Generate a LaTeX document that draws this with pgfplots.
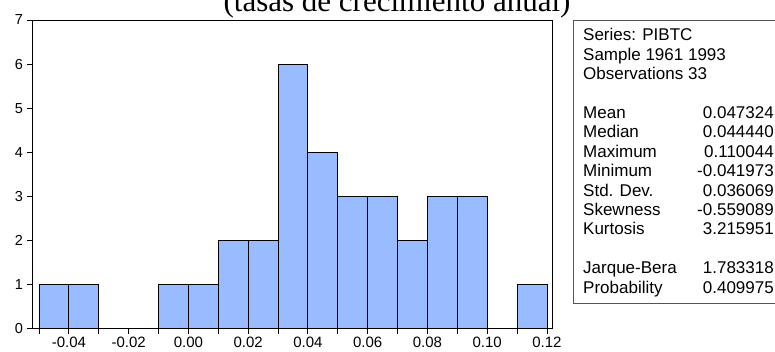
\documentclass[border=0pt]{standalone}
\usepackage{fontspec}
\setmainfont{Liberation Sans}
\newfontfamily\titlefont{Liberation Serif}
\usepackage{pgfplots}
\pgfplotsset{compat=1.18}
\definecolor{barblue}{HTML}{99BBFF}
\definecolor{boxgray}{HTML}{555555}

\begin{document}
\begin{tikzpicture}
\begin{axis}[
  at={(33bp,23.5bp)}, anchor=south west,
  scale only axis, width=519bp, height=308.5bp,
  xmin=-0.052, xmax=0.1217, ymin=0, ymax=7,
  axis line style={black, line width=1bp},
  xtick={-0.04,-0.02,0,0.02,0.04,0.06,0.08,0.10,0.12},
  xticklabels={-0.04,-0.02,0.00,0.02,0.04,0.06,0.08,0.10,0.12},
  minor xtick={-0.05,-0.03,-0.01,0.01,0.03,0.05,0.07,0.09,0.11},
  ytick={0,1,2,3,4,5,6,7},
  xtick pos=lower, ytick pos=left,
  tick align=outside,
  major tick length=5.5bp, minor tick length=5.5bp,
  tick style={black, line width=0.8bp},
  minor tick style={black, line width=0.8bp},
  /pgf/number format/assume math mode=true,
  xticklabel style={font=\fontsize{15bp}{17bp}\selectfont},
  yticklabel style={font=\fontsize{14.5bp}{17bp}\selectfont, xshift=-1bp},
]
% frequency of annual growth rates, bins of width 0.01
\addplot[ybar interval, fill=barblue, draw=black, line width=0.8bp] coordinates {
  (-0.05,1) (-0.04,1) (-0.03,0) (-0.02,0) (-0.01,1) (0.00,1)
  (0.01,2) (0.02,2) (0.03,6) (0.04,4) (0.05,3) (0.06,3)
  (0.07,2) (0.08,3) (0.09,3) (0.10,0) (0.11,1) (0.12,1)
};
\end{axis}

% title
\node[font=\titlefont\fontsize{31bp}{31bp}\selectfont, anchor=base] at (397bp,340bp) {(tasas de crecimiento anual)};

% descriptive statistics panel
\draw[boxgray, line width=0.9bp] (780bp,49bp) -- (573bp,49bp) -- (573bp,332bp) -- (780bp,332bp);
\begin{scope}[every node/.style={font=\fontsize{17bp}{19.4bp}\selectfont, inner sep=0pt}]
  \node[anchor=base west] at (583bp,311bp) {Series: PIBTC};
  \node[anchor=base west] at (583bp,291.6bp) {Sample 1961 1993};
  \node[anchor=base west] at (583bp,272.2bp) {Observations 33};
  \foreach \lab/\val [count=\i from 0, evaluate=\i as \yy using 233.4-19.4*\i] in {Mean/0.047324, Median/0.044440, Maximum/0.110044, Minimum/-0.041973, Std. Dev./0.036069, Skewness/-0.559089, Kurtosis/3.215951} {
    \node[anchor=base west] at (583bp,\yy bp) {\lab};
    \node[anchor=base east] at (774bp,\yy bp) {\val};
  }
  \node[anchor=base west] at (583bp,78bp) {Jarque-Bera};
  \node[anchor=base east] at (774bp,78bp) {1.783318};
  \node[anchor=base west] at (583bp,58.6bp) {Probability};
  \node[anchor=base east] at (774bp,58.6bp) {0.409975};
\end{scope}

\pgfresetboundingbox
\useasboundingbox (0,0) rectangle (775bp,352bp);
\end{tikzpicture}
\end{document}
